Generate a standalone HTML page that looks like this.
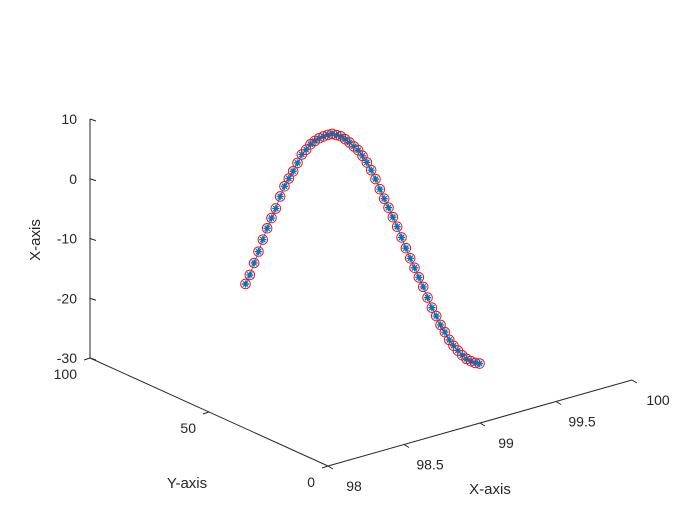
<!DOCTYPE html>
<html><head><meta charset="utf-8"><style>
body{margin:0;background:#fff}
svg{display:block;font-family:"Liberation Sans",Arial,sans-serif}
</style></head><body>
<svg id="chart" width="700" height="525" viewBox="0 0 700 525">
<rect width="700" height="525" fill="#fff"/>
<g id="axes"></g>
<g id="series"></g>
</svg>
<script>
const xTicks=[98,98.5,99,99.5,100];
const yTicks=[0,50,100];
const zTicks=[-30,-20,-10,0,10];
const xStart=98.24, xEnd=99.78;
const yConst=50;
const zValues=[-10.3,-9.0,-7.2,-5.5,-3.7,-2.0,-0.5,0.9,2.7,4.2,5.3,6.3,7.5,8.7,9.3,10.0,10.35,10.6,10.7,10.75,10.7,10.3,9.9,9.2,8.45,7.6,6.75,5.6,4.3,2.8,1.1,-0.8,-2.6,-4.3,-6.1,-7.9,-9.9,-11.9,-13.8,-15.6,-17.4,-19.2,-21.2,-23.1,-24.7,-26.4,-27.8,-29.3,-30.5,-31.5,-32.5,-33.3,-33.9,-34.4,-34.7];

const NS='http://www.w3.org/2000/svg';
const O={x:328,y:466};
function proj(x,y,z){
  return [O.x+(x-98)*152-y*2.38, O.y-(x-98)*43-y*1.08-(z+30)*5.975];
}
function mk(tag,attrs,parent){const e=document.createElementNS(NS,tag);for(const k in attrs)e.setAttribute(k,attrs[k]);parent.appendChild(e);return e;}
const ax=document.getElementById('axes');
function line(p,q,name){const l=mk('line',{x1:p[0],y1:p[1],x2:q[0],y2:q[1],stroke:'#262626','stroke-width':1},ax);

return l;}
function text(x,y,s,anchor,name,size){const t=mk('text',{x:x,y:y,'font-size':size||14,fill:'#262626','text-anchor':anchor},ax);t.textContent=s;

return t;}
// axes
line(proj(98,0,-30),proj(100,0,-30),'x-axis-line');
line(proj(98,0,-30),proj(98,100,-30),'y-axis-line');
line(proj(98,100,-30),proj(98,100,10),'z-axis-line');
// x ticks
xTicks.forEach(v=>{const p=proj(v,0,-30);line(p,[p[0]+5,p[1]+3],'x-tick');
 text(p[0]+26,p[1]+25,String(v),'middle','x-tick-label');});
// y ticks
yTicks.forEach(v=>{const p=proj(98,v,-30);line(p,[p[0]-6,p[1]+2],'y-tick');
 text(p[0]-13,p[1]+21,String(v),'end','y-tick-label');});
// z ticks
zTicks.forEach(v=>{const p=proj(98,100,v);line(p,[p[0]+6,p[1]+2],'z-tick');
 text(p[0]-13,p[1]+5,String(v),'end','z-tick-label');});
text(490,494,'X-axis','middle','x-axis-title',15);
text(187,488,'Y-axis','middle','y-axis-title',15);
const zt=text(0,0,'X-axis','middle','z-axis-title',15);zt.setAttribute('transform','translate(40,240) rotate(-90)');
// series
const sg=document.getElementById('series');
const n=zValues.length;
const pts=zValues.map((z,i)=>proj(xStart+(xEnd-xStart)*i/(n-1),yConst,z));
const pl=mk('polyline',{points:pts.map(p=>p.join(',')).join(' '),fill:'none',stroke:'#0072BD','stroke-width':0.8},sg);


pts.forEach((p,i)=>{
 const g=mk('g',{},sg);
 
 
 mk('circle',{cx:p[0],cy:p[1],r:4.8,fill:'none',stroke:'#e8141c','stroke-width':1},g);
 for(let k=0;k<4;k++){const a=k*Math.PI/4;const dx=3.6*Math.cos(a),dy=3.6*Math.sin(a);
  mk('line',{x1:p[0]-dx,y1:p[1]-dy,x2:p[0]+dx,y2:p[1]+dy,stroke:'#0072BD','stroke-width':1.3},g);}
});
</script>
</body></html>
